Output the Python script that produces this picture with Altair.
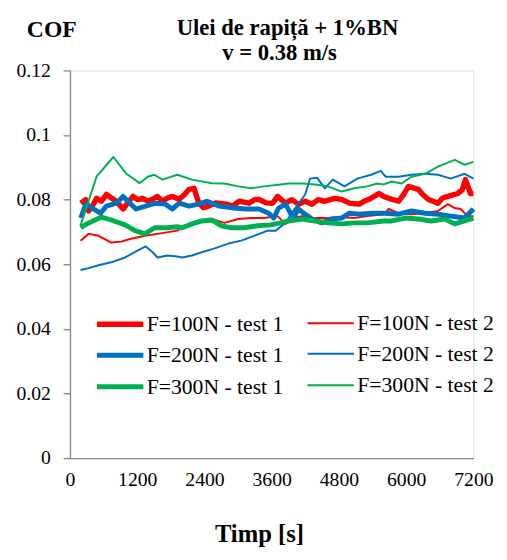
import altair as alt
import pandas as pd

# ---------------- data ----------------
names = ["F=100N - test 1", "F=100N - test 2",
         "F=200N - test 1", "F=200N - test 2",
         "F=300N - test 1", "F=300N - test 2"]
colors = ["#FF0000", "#FF0000", "#0070C0", "#0070C0", "#00B050", "#00B050"]
widths = [5.5, 2, 5, 2, 5, 2]

title_lines = ["Ulei de rapiță + 1%BN", "v = 0.38 m/s"]

x_ticks = [0, 1200, 2400, 3600, 4800, 6000, 7200]
y_ticks = [0, 0.02, 0.04, 0.06, 0.08, 0.1, 0.12]

t_red1 = [193, 280, 334, 400, 474, 560, 650, 740, 825, 948, 1030, 1124, 1210, 1299, 1390,
          1475, 1560, 1651, 1740, 1826, 1949, 2040, 2125, 2213, 2300, 2380, 2476, 2600,
          2792, 2900, 3020, 3196, 3290, 3372, 3500, 3617, 3705, 3846, 3960, 4074, 4200,
          4320, 4430, 4548, 4724, 4847, 4987, 5163, 5250, 5338, 5514, 5600, 5689, 5865,
          5950, 6041, 6216, 6300, 6392, 6567, 6650, 6743, 6919, 7000, 7059, 7147, 7200]
v_red1 = [0.0789, 0.0800, 0.0765, 0.0780, 0.0804, 0.0795, 0.0816, 0.0805, 0.0795, 0.0771,
          0.0790, 0.0810, 0.0800, 0.0804, 0.0795, 0.0801, 0.0810, 0.0795, 0.0805, 0.0810,
          0.0801, 0.0815, 0.0832, 0.0835, 0.0789, 0.0775, 0.0780, 0.0790, 0.0786, 0.0780,
          0.0795, 0.0789, 0.0800, 0.0801, 0.0790, 0.0789, 0.0810, 0.0789, 0.0800, 0.0786,
          0.0795, 0.0786, 0.0800, 0.0795, 0.0804, 0.0801, 0.0789, 0.0786, 0.0795, 0.0801,
          0.0819, 0.0810, 0.0804, 0.0795, 0.0815, 0.0841, 0.0832, 0.0815, 0.0801, 0.0789,
          0.0805, 0.0810, 0.0819, 0.0830, 0.0862, 0.0819, 0.0819]

t_red2 = [188, 334, 509, 738, 913, 1089, 1335, 1563, 1914, 2055, 2300, 2529, 2757, 3003,
          3231, 3459, 3705, 3846, 4021, 4144, 4320, 4601, 4847, 5075, 5303, 5602, 5689,
          5865, 6093, 6339, 6567, 6743, 6866, 6971, 7094, 7200]
v_red2 = [0.0673, 0.0694, 0.0688, 0.0667, 0.0670, 0.0679, 0.0688, 0.0694, 0.0704, 0.0719,
          0.0728, 0.0740, 0.0728, 0.0740, 0.0743, 0.0743, 0.0749, 0.0725, 0.0745, 0.0749,
          0.0743, 0.0743, 0.0746, 0.0743, 0.0749, 0.0755, 0.0771, 0.0758, 0.0755, 0.0758,
          0.0765, 0.0786, 0.0774, 0.0771, 0.0749, 0.0749]

t_blue1 = [193, 281, 421, 544, 650, 825, 948, 1071, 1177, 1352, 1528, 1703, 1826, 1949,
           2125, 2300, 2441, 2669, 2915, 3143, 3372, 3547, 3635, 3723, 3846, 3933, 3986,
           4074, 4197, 4320, 4495, 4671, 4847, 4987, 5163, 5391, 5637, 5865, 6093, 6339,
           6567, 6796, 7042, 7200]
v_blue1 = [0.0743, 0.0786, 0.0771, 0.0758, 0.0780, 0.0789, 0.0810, 0.0789, 0.0771, 0.0780,
           0.0789, 0.0786, 0.0771, 0.0789, 0.0780, 0.0786, 0.0795, 0.0780, 0.0774, 0.0771,
           0.0771, 0.0758, 0.0743, 0.0774, 0.0786, 0.0758, 0.0743, 0.0771, 0.0755, 0.0740,
           0.0728, 0.0740, 0.0743, 0.0758, 0.0755, 0.0758, 0.0758, 0.0755, 0.0765, 0.0758,
           0.0755, 0.0749, 0.0743, 0.0771]

t_blue2 = [188, 334, 509, 738, 983, 1212, 1352, 1475, 1563, 1738, 1914, 2002, 2177, 2353,
           2581, 2827, 3055, 3284, 3530, 3670, 3846, 4021, 4197, 4285, 4408, 4548, 4689,
           4899, 5128, 5373, 5549, 5602, 5637, 5865, 6093, 6339, 6567, 6796, 7042, 7200]
v_blue2 = [0.0582, 0.0588, 0.0597, 0.0606, 0.0621, 0.0643, 0.0655, 0.0637, 0.0621, 0.0627,
           0.0624, 0.0621, 0.0627, 0.0637, 0.0649, 0.0664, 0.0673, 0.0688, 0.0704, 0.0704,
           0.0728, 0.0774, 0.0816, 0.0865, 0.0868, 0.0835, 0.0862, 0.0841, 0.0865, 0.0877,
           0.0889, 0.0877, 0.0871, 0.0871, 0.0877, 0.0880, 0.0877, 0.0865, 0.0880, 0.0865]

t_green1 = [188, 334, 562, 738, 983, 1159, 1335, 1510, 1738, 1914, 2002, 2177, 2353, 2529,
            2704, 2880, 3108, 3354, 3582, 3758, 3898, 4144, 4372, 4601, 4847, 5075, 5303,
            5602, 5742, 5988, 6216, 6445, 6690, 6866, 7042, 7200]
v_green1 = [0.0713, 0.0728, 0.0746, 0.0737, 0.0722, 0.0704, 0.0694, 0.0713, 0.0713, 0.0716,
            0.0713, 0.0725, 0.0734, 0.0737, 0.0719, 0.0713, 0.0713, 0.0719, 0.0722, 0.0728,
            0.0734, 0.0740, 0.0734, 0.0728, 0.0725, 0.0728, 0.0728, 0.0734, 0.0734, 0.0743,
            0.0740, 0.0734, 0.0740, 0.0725, 0.0734, 0.0743]

t_green2 = [188, 474, 773, 1001, 1241, 1387, 1505, 1651, 1914, 2177, 2529, 2757, 3003,
            3231, 3459, 3758, 3898, 4144, 4372, 4601, 4847, 5075, 5303, 5479, 5602, 5742,
            5918, 6093, 6339, 6567, 6866, 7042, 7200]
v_green2 = [0.0720, 0.0871, 0.0932, 0.0881, 0.0851, 0.0871, 0.0877, 0.0862, 0.0877, 0.0862,
            0.0851, 0.0850, 0.0841, 0.0835, 0.0841, 0.0847, 0.0850, 0.0850, 0.0847, 0.0841,
            0.0825, 0.0835, 0.0841, 0.0850, 0.0847, 0.0856, 0.0850, 0.0871, 0.0880, 0.0902,
            0.0923, 0.0908, 0.0917]

series_t = [t_red1, t_red2, t_blue1, t_blue2, t_green1, t_green2]
series_v = [v_red1, v_red2, v_blue1, v_blue2, v_green1, v_green2]

rows = []
for name, ts, vs in zip(names, series_t, series_v):
    for t, v in zip(ts, vs):
        rows.append({"series": name, "t": t, "cof": v})
df = pd.DataFrame(rows)

# ---------------- chart ----------------
FONT = "Liberation Serif"
AXIS_GREY = "#868686"

legend = alt.Legend(
    title=None, orient="none", legendX=33, legendY=240, columns=2,
    direction="horizontal",
    symbolType="M-1.57,0H1.57", symbolSize=900,
    labelFont=FONT, labelFontSize=22,
    labelColor="black", labelOffset=9, rowPadding=3, columnPadding=20,
    padding=0, labelLimit=400,
)

lines = alt.Chart(df).mark_line(strokeJoin="round", strokeCap="butt").encode(
    x=alt.X("t:Q",
            scale=alt.Scale(domain=[0, 7200], nice=False, zero=False),
            axis=alt.Axis(values=x_ticks, format="d", grid=False, ticks=False,
                          domainColor=AXIS_GREY, domainWidth=1.3,
                          labelFont=FONT, labelFontSize=20, labelColor="black",
                          labelPadding=12, labelFlush=False,
                          title="Timp [s]", titleFont=FONT, titleFontSize=25,
                          titleFontWeight="bold", titleColor="black",
                          titleX=192, titleY=85, titleBaseline="alphabetic")),
    y=alt.Y("cof:Q",
            scale=alt.Scale(domain=[0, 0.12], nice=False),
            axis=alt.Axis(values=y_ticks, grid=False,
                          labelExpr="format(datum.value, '.2~f')",
                          domainColor=AXIS_GREY, domainWidth=1.3,
                          tickColor=AXIS_GREY, tickWidth=1.3, tickSize=7,
                          labelFont=FONT, labelFontSize=20, labelColor="black",
                          labelPadding=13, labelFlush=False,
                          title="COF", titleFont=FONT, titleFontSize=24,
                          titleFontWeight="bold", titleColor="black",
                          titleAngle=0, titleX=-19, titleY=-34,
                          titleAlign="center", titleBaseline="alphabetic")),
    color=alt.Color("series:N", scale=alt.Scale(domain=names, range=colors),
                    legend=legend),
    strokeWidth=alt.StrokeWidth("series:N",
                                scale=alt.Scale(type="ordinal", domain=names, range=widths),
                                legend=legend),
)

title_style = dict(font=FONT, fontSize=23, fontWeight="bold", color="black",
                   align="center", baseline="alphabetic")
t1 = alt.Chart(pd.DataFrame({"txt": [title_lines[0]]})).mark_text(**title_style).encode(
    text="txt:N", x=alt.value(221), y=alt.value(-36))
t2 = alt.Chart(pd.DataFrame({"txt": [title_lines[1]]})).mark_text(**title_style).encode(
    text="txt:N", x=alt.value(213), y=alt.value(-11))

chart = alt.layer(lines, t1, t2).properties(
    width=410, height=394,
    padding={"left": 63, "top": 59, "right": 26, "bottom": 90},
    autosize=alt.AutoSizeParams(type="none"),
).configure_view(stroke=None).configure(background="white")

chart.save("out.html", embed_options={"renderer": "svg", "actions": False})
